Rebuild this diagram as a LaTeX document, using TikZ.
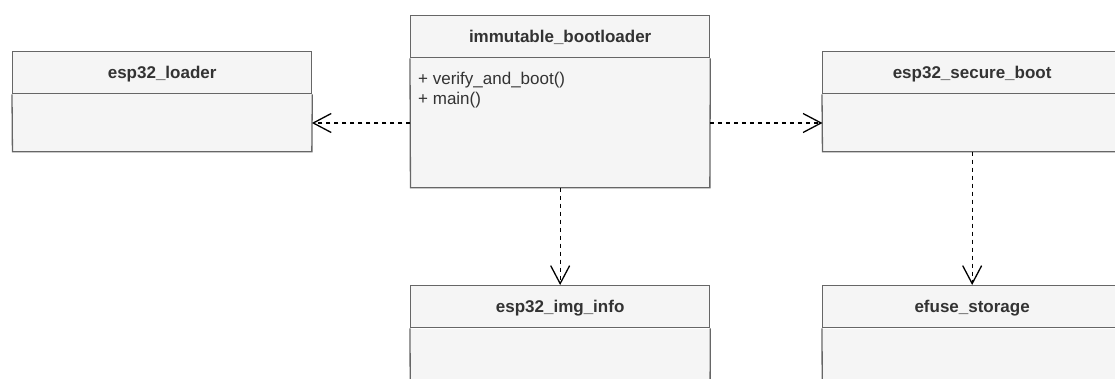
\documentclass[tikz,border=0pt]{standalone}
\usepackage{fontspec}
\setmainfont{Liberation Sans}
\usetikzlibrary{arrows.meta}
\definecolor{boxfill}{HTML}{F5F5F5}
\definecolor{boxline}{HTML}{666666}
\definecolor{boxtext}{HTML}{333333}
\begin{document}
\begin{tikzpicture}[x=1pt,y=-1pt,
  hdr/.style={draw=boxline, fill=boxfill, line width=1.3pt, minimum width=299pt, minimum height=42pt,
    inner sep=0pt, text height=12.2pt, text depth=0pt, font=\fontsize{17}{20}\selectfont\bfseries, text=boxtext},
  bodybox/.style={fill=boxfill, minimum width=299pt, inner sep=0pt, anchor=north},
  boxedge/.style={draw=boxline, line width=1.3pt, line join=miter},
  members/.style={font=\fontsize{17}{20}\selectfont, text=boxtext, align=left, inner sep=0pt, anchor=base west},
  dep/.style={draw=black, line width=1.3pt, dash pattern=on 4pt off 4pt, -{Straight Barb[length=18pt,width=19pt]}}
]
\useasboundingbox (0,0) rectangle (1115,379);
\clip (0,0) rectangle (1115,379);

% immutable_bootloader
\node[hdr, anchor=north west] (ibh) at (410,15) {immutable\_bootloader};
\node[bodybox, minimum height=129pt] (ib) at (ibh.south) {};
\draw[boxedge] (ibh.south west) -- (ib.south west) -- (ib.south east) -- (ibh.south east);
\node[members] (ibm) at (418,104.5) {+ verify\_and\_boot()\\+ main()};

% esp32_loader
\node[hdr, anchor=north west] (lh) at (12,51) {esp32\_loader};
\node[bodybox, minimum height=57pt] (lb) at (lh.south) {};
\draw[boxedge] (lh.south west) -- (lb.south west) -- (lb.south east) -- (lh.south east);

% esp32_secure_boot
\node[hdr, anchor=north west] (sh) at (822,51) {esp32\_secure\_boot};
\node[bodybox, minimum height=57pt] (sb) at (sh.south) {};
\draw[boxedge] (sh.south west) -- (sb.south west) -- (sb.south east) -- (sh.south east);

% esp32_img_info
\node[hdr, anchor=north west] (iih) at (410,285) {esp32\_img\_info};
\node[bodybox, minimum height=120pt] (iib) at (iih.south) {};
\draw[boxedge] (iih.south west) -- (iib.south west) -- (iib.south east) -- (iih.south east);

% efuse_storage
\node[hdr, anchor=north west] (efh) at (822,285) {efuse\_storage};
\node[bodybox, minimum height=120pt] (efb) at (efh.south) {};
\draw[boxedge] (efh.south west) -- (efb.south west) -- (efb.south east) -- (efh.south east);

% dependencies
\draw[dep] (ib.west |- lb.east) -- (lb.east);
\draw[dep] (ib.east |- sb.west) -- (sb.west);
\draw[dep] (ib.south) -- (iih.north);
\draw[dep] (sb.south) -- (efh.north);
\end{tikzpicture}
\end{document}
